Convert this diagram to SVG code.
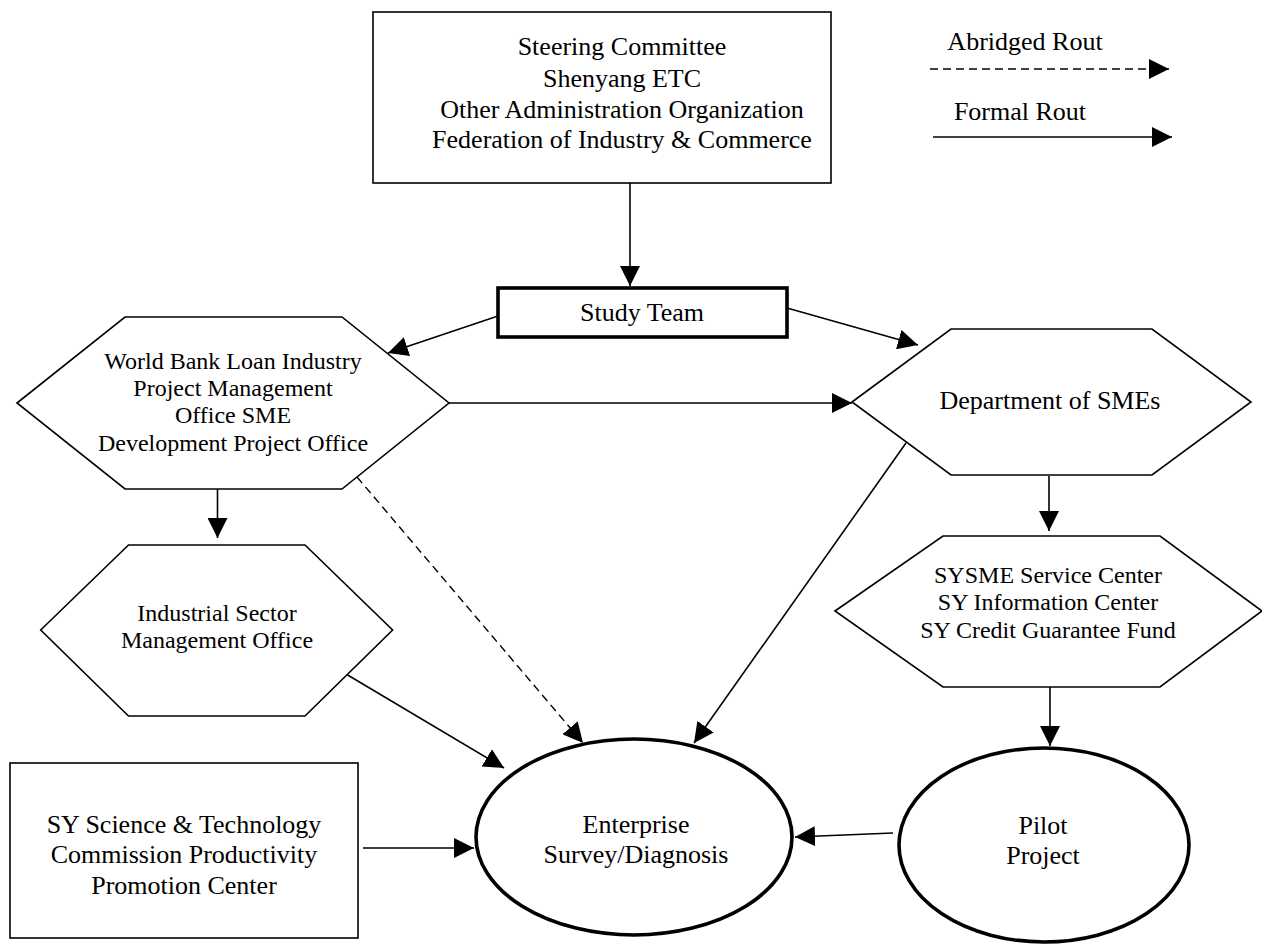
<svg xmlns="http://www.w3.org/2000/svg" width="1262" height="944" viewBox="0 0 1262 944">
  <style>
    text { font-family: "Liberation Serif", "Times New Roman", serif; fill: #000; text-anchor: middle; }
    .t26 { font-size: 26px; }
    .t24 { font-size: 24px; }
    .shape { fill: #fff; stroke: #000; stroke-width: 1.6; }
    .bold { fill: #fff; stroke: #000; stroke-width: 3.6; }
    .edge { fill: none; stroke: #000; stroke-width: 1.6; marker-end: url(#arrow); }
    .dash { stroke-dasharray: 8 5; stroke-width: 1.4; }
  </style>
  <defs>
    <marker id="arrow" markerUnits="userSpaceOnUse" markerWidth="20" markerHeight="20" refX="20" refY="10" orient="auto">
      <path d="M0,0 L20,10 L0,20 Z" fill="#000"/>
    </marker>
  </defs>

  <rect x="0" y="0" width="1262" height="944" fill="#fff"/>

  <!-- connectors -->
  <g id="connectors">
    <line class="edge" x1="630" y1="183" x2="630" y2="286"/>
    <line class="edge" x1="498" y1="316" x2="388" y2="353"/>
    <line class="edge" x1="787" y1="308" x2="918" y2="345"/>
    <line class="edge" x1="449" y1="403" x2="852" y2="403"/>
    <line class="edge" x1="217.5" y1="489" x2="217.5" y2="538"/>
    <line class="edge dash" x1="357" y1="477" x2="583" y2="743"/>
    <line class="edge" x1="906" y1="443" x2="694" y2="743"/>
    <line class="edge" x1="1049" y1="476" x2="1049" y2="531"/>
    <line class="edge" x1="346" y1="674" x2="504" y2="768"/>
    <line class="edge" x1="363" y1="848" x2="474" y2="848"/>
    <line class="edge" x1="1050" y1="687" x2="1050" y2="746"/>
    <line class="edge" x1="893" y1="833" x2="795" y2="837"/>
  </g>

  <!-- legend -->
  <g id="legend">
    <text class="t26" x="1025" y="50">Abridged Rout</text>
    <line class="edge dash" x1="930" y1="69" x2="1169" y2="69"/>
    <text class="t26" x="1020" y="120">Formal Rout</text>
    <line class="edge" x1="933" y1="137" x2="1172" y2="137"/>
  </g>

  <g id="steering">
    <rect class="shape" x="373" y="12" width="458" height="171"/>
    <text class="t26" x="622" y="55">Steering Committee</text>
    <text class="t26" x="622" y="87">Shenyang ETC</text>
    <text class="t26" x="622" y="118">Other Administration Organization</text>
    <text class="t26" x="622" y="148">Federation of Industry &amp; Commerce</text>
  </g>

  <g id="study-team">
    <rect class="bold" x="498" y="288" width="289" height="49"/>
    <text class="t26" x="642" y="321">Study Team</text>
  </g>

  <g id="world-bank">
    <polygon class="shape" points="17,403 125,317 342,317 449,403 342,489 125,489"/>
    <text class="t24" x="233" y="369">World Bank Loan Industry</text>
    <text class="t24" x="233" y="396">Project Management</text>
    <text class="t24" x="233" y="423">Office SME</text>
    <text class="t24" x="233" y="451">Development Project Office</text>
  </g>

  <g id="dept-smes">
    <polygon class="shape" points="852,402 951,329 1152,329 1251,402 1152,475 951,475"/>
    <text class="t26" x="1050" y="409">Department of SMEs</text>
  </g>

  <g id="industrial-sector">
    <polygon class="shape" points="40.7,630 128.5,545 305,545 392.6,630 305,716 128.5,716"/>
    <text class="t24" x="217" y="621">Industrial Sector</text>
    <text class="t24" x="217" y="648">Management Office</text>
  </g>

  <g id="sysme">
    <polygon class="shape" points="835,611 943,536 1160,536 1262,611 1160,687 943,687"/>
    <text class="t24" x="1048" y="583">SYSME Service Center</text>
    <text class="t24" x="1048" y="610">SY Information Center</text>
    <text class="t24" x="1048" y="638">SY Credit Guarantee Fund</text>
  </g>

  <g id="sy-science">
    <rect class="shape" x="10" y="763" width="348" height="175"/>
    <text class="t26" x="184" y="833">SY Science &amp; Technology</text>
    <text class="t26" x="184" y="863">Commission Productivity</text>
    <text class="t26" x="184" y="894">Promotion Center</text>
  </g>

  <g id="enterprise-survey">
    <ellipse class="bold" cx="634" cy="837" rx="158" ry="98"/>
    <text class="t26" x="636" y="833">Enterprise</text>
    <text class="t26" x="636" y="863">Survey/Diagnosis</text>
  </g>

  <g id="pilot-project">
    <ellipse class="bold" cx="1044" cy="845" rx="145" ry="97"/>
    <text class="t26" x="1043" y="834">Pilot</text>
    <text class="t26" x="1043" y="864">Project</text>
  </g>
</svg>
